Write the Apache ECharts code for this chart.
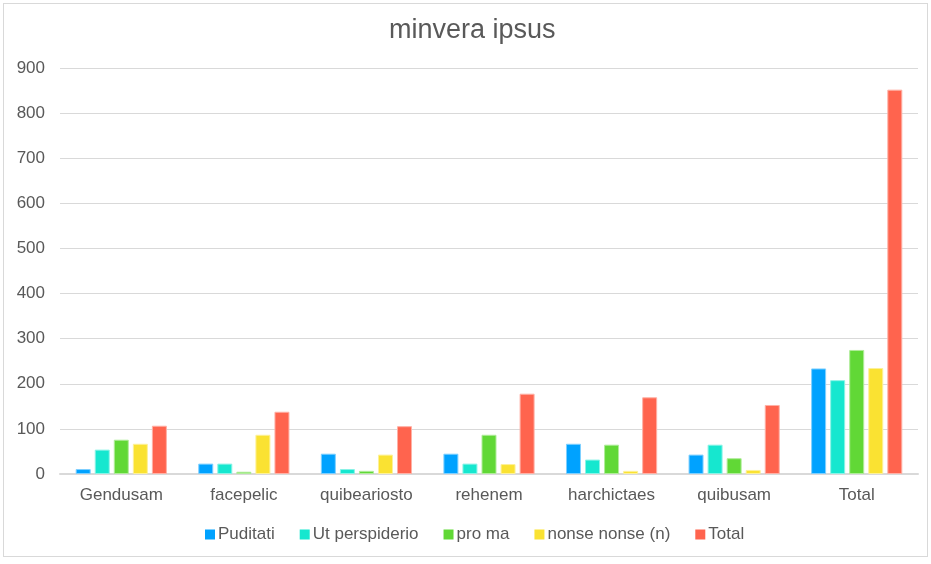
<!DOCTYPE html>
<html><head><meta charset="utf-8">
<script src="https://cdn.jsdelivr.net/npm/echarts@6/dist/echarts.min.js"></script>
<style>html,body{margin:0;padding:0;background:#fff;}
#frame{position:absolute;left:3px;top:3px;width:923px;height:552px;border:1px solid #d9d9d9;}
#c{position:absolute;left:0;top:0;width:931px;height:564px;}</style>
</head><body><div id="frame"></div><div id="c"></div>
<script>
const categories = ['Gendusam','facepelic','quibeariosto','rehenem','harchictaes','quibusam','Total'];
const seriesNames = ['Puditati','Ut perspiderio','pro ma','nonse nonse (n)','Total'];
const puditati = [11,23,45,45,67,43,234];
const utPerspiderio = [54,23,11,23,32,65,208];
const proMa = [76,5,7,87,65,35,275];
const nonse = [67,87,43,22,7,9,235];
const total = [107,138,106,178,170,153,852];
const yTicks = [0,100,200,300,400,500,600,700,800,900];
const colors = ['#00A2FF','#16E7CF','#61D836','#FAE232','#FF644E'];
const borders = ['#7fd0ff','#8af3e7','#b0ec9a','#fdf199','#ffb1a6'];
const values = [puditati, utPerspiderio, proMa, nonse, total];
const font = 'Liberation Sans, Arial, sans-serif';
const chart = echarts.init(document.getElementById('c'));
chart.setOption({
  animation:false,
  title:{text:'minvera ipsus',left:384,top:12,textStyle:{fontFamily:font,fontSize:27,fontWeight:'normal',color:'#595959'}},
  legend:{bottom:16,left:200,itemWidth:10,itemHeight:10,itemGap:25,icon:'rect',
    itemStyle:{borderWidth:0},
    textStyle:{fontFamily:font,fontSize:17,color:'#595959',padding:[0,0,0,-2]},data:seriesNames},
  grid:{left:60,right:13,top:68,bottom:90,containLabel:false},
  xAxis:{type:'category',data:categories,axisTick:{show:false},
    axisLine:{lineStyle:{color:'#d9d9d9',width:2}},
    axisLabel:{fontFamily:font,fontSize:17,color:'#595959',margin:13}},
  yAxis:{type:'value',min:yTicks[0],max:yTicks[yTicks.length-1],interval:100,
    axisLine:{show:false},axisTick:{show:false},
    splitLine:{lineStyle:{color:'#d9d9d9',width:1}},
    axisLabel:{fontFamily:font,fontSize:17,color:'#595959',margin:15}},
  series: seriesNames.map((n,i)=>({name:n,type:'bar',data:values[i],barWidth:15,barGap:'27%',
    itemStyle:{color:colors[i],borderColor:borders[i],borderWidth:1}}))
});
</script></body></html>
